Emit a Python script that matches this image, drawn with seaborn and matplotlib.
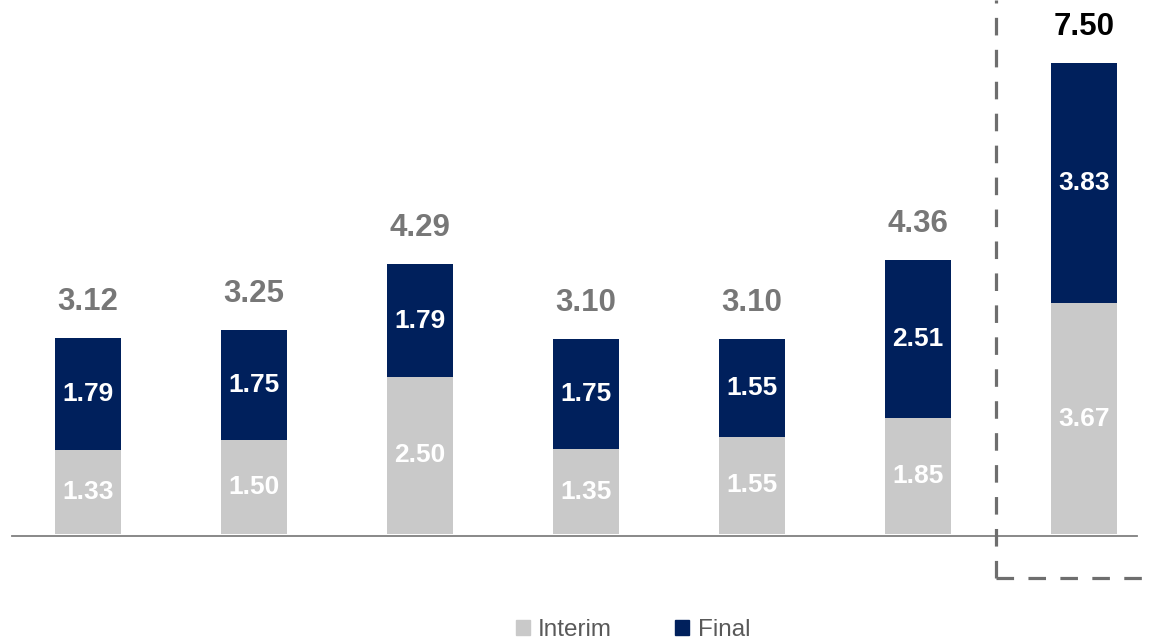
import matplotlib
matplotlib.use("Agg")
import matplotlib.pyplot as plt
from matplotlib.patches import Patch
from matplotlib.lines import Line2D
import pandas as pd
import seaborn as sns

periods = ["P1", "P2", "P3", "P4", "P5", "P6", "P7"]
interim = [1.33, 1.50, 2.50, 1.35, 1.55, 1.85, 3.67]
final = [1.79, 1.75, 1.79, 1.75, 1.55, 2.51, 3.83]
totals = [3.12, 3.25, 4.29, 3.10, 3.10, 4.36, 7.50]

INTERIM_COLOR = "#C9C9C9"
FINAL_COLOR = "#00205C"
TOTAL_COLOR = "#777777"

sns.set_theme(style="white")
plt.rcParams["font.family"] = ["Liberation Sans", "DejaVu Sans"]

df = pd.DataFrame({"period": periods, "interim": interim,
                   "final": final, "total": totals})

W, H = 1155, 639
fig = plt.figure(figsize=(W / 100, H / 100), dpi=100)
ax = fig.add_axes([12 / W, (H - 536) / H, (1137 - 12) / W, 536 / H])

sns.barplot(data=df, x="period", y="total", color=FINAL_COLOR,
            width=0.4, saturation=1, ax=ax, linewidth=0)
sns.barplot(data=df, x="period", y="interim", color=INTERIM_COLOR,
            width=0.4, saturation=1, ax=ax, linewidth=0)

ax.set_xlim(-0.458, 6.32)
ax.set_ylim(-0.032, 8.50)
ax.set_xlabel("")
ax.set_ylabel("")
ax.set_xticks([])
ax.set_yticks([])
for side in ["top", "right", "left"]:
    ax.spines[side].set_visible(False)
ax.spines["bottom"].set_color("#7F7F7F")
ax.spines["bottom"].set_linewidth(1.3)

for i in range(len(periods)):
    ax.text(i, interim[i] / 2, f"{interim[i]:.2f}", ha="center", va="center",
            color="white", fontsize=19, fontweight="bold")
    ax.text(i, interim[i] + final[i] / 2, f"{final[i]:.2f}", ha="center",
            va="center", color="white", fontsize=19, fontweight="bold")
    last = i == len(periods) - 1
    ax.annotate(f"{totals[i]:.2f}", (i, totals[i]), xytext=(0, 26),
                textcoords="offset points", ha="center", va="center",
                fontsize=22.5, fontweight="bold",
                color="black" if last else TOTAL_COLOR)

# dashed frame around the latest period
dash_kw = dict(color="#6E6E6E", linewidth=2.3, linestyle=(0, (5.5, 4.5)),
               transform=fig.transFigure, clip_on=False)
x0, y0 = 996 / W, (H - 578) / H
fig.add_artist(Line2D([x0, x0], [y0, 1.0], **dash_kw))
fig.add_artist(Line2D([x0, 1.0], [y0, y0], **dash_kw))

handles = [Patch(color=INTERIM_COLOR, label="Interim"),
           Patch(color=FINAL_COLOR, label="Final")]
fig.legend(handles=handles, loc="center", bbox_to_anchor=(633 / W, (H - 630) / H),
           ncol=2, frameon=False, fontsize=17.5, handlelength=0.58,
           handleheight=0.58, handletextpad=0.35, columnspacing=2.6,
           labelcolor="#595959")

fig.savefig("out.png", dpi=100)
